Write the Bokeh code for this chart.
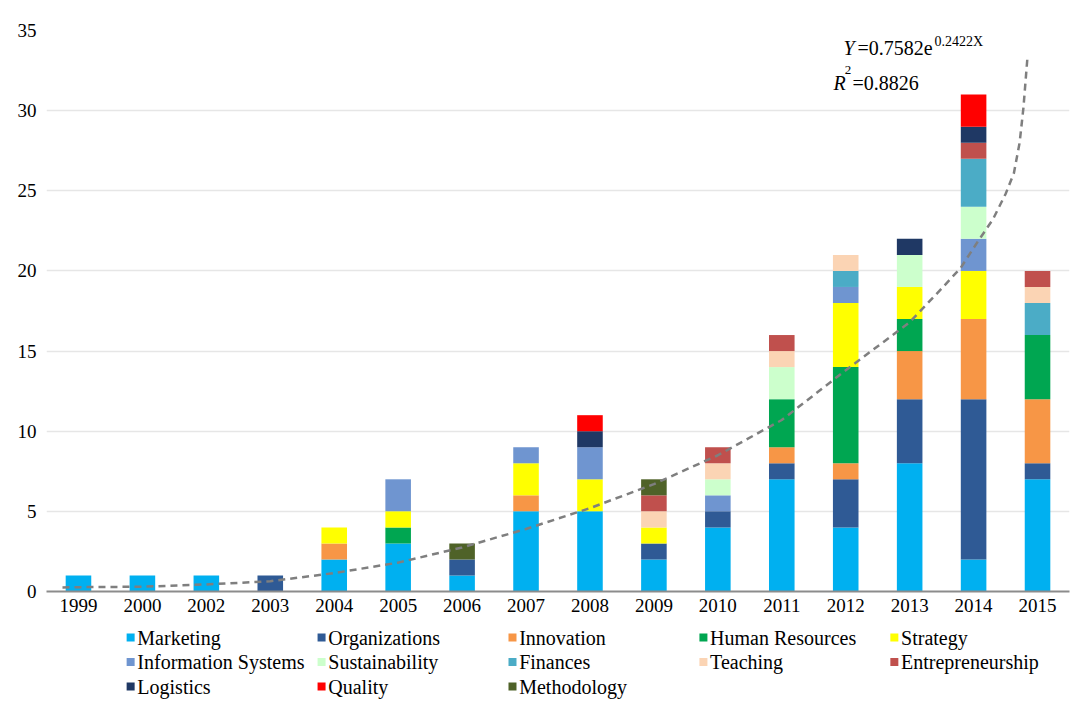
from bokeh.plotting import figure
from bokeh.layouts import column
from bokeh.models import (ColumnDataSource, Range1d, FixedTicker, Label)
from bokeh.core.properties import value
from bokeh.embed import file_html
from bokeh.resources import INLINE

years = ["1999", "2000", "2002", "2003", "2004", "2005", "2006", "2007",
         "2008", "2009", "2010", "2011", "2012", "2013", "2014", "2015"]

categories = ["Marketing", "Organizations", "Innovation", "Human Resources", "Strategy",
              "Information Systems", "Sustainability", "Finances", "Teaching", "Entrepreneurship",
              "Logistics", "Quality", "Methodology"]

marketing = [1, 1, 1, 0, 2, 3, 1, 5, 5, 2, 4, 7, 4, 8, 2, 7]
organizations = [0, 0, 0, 1, 0, 0, 1, 0, 0, 1, 1, 1, 3, 4, 10, 1]
innovation = [0, 0, 0, 0, 1, 0, 0, 1, 0, 0, 0, 1, 1, 3, 5, 4]
human_resources = [0, 0, 0, 0, 0, 1, 0, 0, 0, 0, 0, 3, 6, 2, 0, 4]
strategy = [0, 0, 0, 0, 1, 1, 0, 2, 2, 1, 0, 0, 4, 2, 3, 0]
information_systems = [0, 0, 0, 0, 0, 2, 0, 1, 2, 0, 1, 0, 1, 0, 2, 0]
sustainability = [0, 0, 0, 0, 0, 0, 0, 0, 0, 0, 1, 2, 0, 2, 2, 0]
finances = [0, 0, 0, 0, 0, 0, 0, 0, 0, 0, 0, 0, 1, 0, 3, 2]
teaching = [0, 0, 0, 0, 0, 0, 0, 0, 0, 1, 1, 1, 1, 0, 0, 1]
entrepreneurship = [0, 0, 0, 0, 0, 0, 0, 0, 0, 1, 1, 1, 0, 0, 1, 1]
logistics = [0, 0, 0, 0, 0, 0, 0, 0, 1, 0, 0, 0, 0, 1, 1, 0]
quality = [0, 0, 0, 0, 0, 0, 0, 0, 1, 0, 0, 0, 0, 0, 2, 0]
methodology = [0, 0, 0, 0, 0, 0, 1, 0, 0, 1, 0, 0, 0, 0, 0, 0]

series = [marketing, organizations, innovation, human_resources, strategy,
          information_systems, sustainability, finances, teaching, entrepreneurship,
          logistics, quality, methodology]

colors = ["#00B0F0", "#2F5A95", "#F79646", "#00A651", "#FFFF00",
          "#6F95D0", "#CCFFCC", "#4BACC6", "#FBD4B4", "#C0504D",
          "#1F3864", "#FF0000", "#4F6228"]

# exponential trendline (x in category index units)
trend_x = [-0.25, 0, 1, 2, 3, 4, 5, 6, 7, 8, 9, 10, 11, 12, 13, 13.5, 13.8, 14.06, 14.3,
           14.5, 14.63, 14.72, 14.78, 14.84]
trend_y = [0.25, 0.27, 0.3, 0.44, 0.64, 1.15, 1.8, 2.75, 3.9, 5.2, 6.7, 8.5, 10.7, 13.8, 16.8,
           18.9, 20.2, 21.8, 23.2, 24.8, 26.1, 28.0, 30.2, 33.2]

FONT = "Liberation Serif"

data = {"x": list(range(len(years)))}
for c, s in zip(categories, series):
    data[c] = s
src = ColumnDataSource(data)

p = figure(width=1070, height=621, output_backend="svg", toolbar_location=None,
           x_range=Range1d(-0.5, 15.5), y_range=Range1d(0, 35),
           min_border_left=46, min_border_right=1, min_border_top=30, min_border_bottom=30)
p.outline_line_color = None
p.background_fill_color = "white"

p.vbar_stack(categories, x="x", width=0.4, source=src, color=colors, line_color=None)

p.line(trend_x, trend_y, line_color="#7F7F7F", line_width=2.5, line_dash="7 5")

# axes
p.xaxis.ticker = FixedTicker(ticks=list(range(len(years))))
p.xaxis.major_label_overrides = {i: y for i, y in enumerate(years)}
p.xaxis.major_tick_line_color = None
p.xaxis.minor_tick_line_color = None
p.xaxis.major_tick_out = 0
p.xaxis.axis_line_color = "#8C8C8C"
p.xaxis.axis_line_width = 2
p.xaxis.major_label_text_font = FONT
p.xaxis.major_label_text_font_size = "19px"
p.xaxis.major_label_text_color = "black"
p.xaxis.major_label_standoff = 7

p.yaxis.ticker = FixedTicker(ticks=[0, 5, 10, 15, 20, 25, 30, 35])
p.yaxis.major_tick_line_color = None
p.yaxis.minor_tick_line_color = None
p.yaxis.major_tick_out = 0
p.yaxis.axis_line_color = None
p.yaxis.major_label_text_font = FONT
p.yaxis.major_label_text_font_size = "19px"
p.yaxis.major_label_text_color = "black"
p.yaxis.major_label_standoff = 10

p.xgrid.grid_line_color = None
p.ygrid.grid_line_color = "#E6E6E6"
p.ygrid.grid_line_width = 1.5

# equation text
lab_kw = dict(x_units="data", y_units="data", text_font=FONT, text_color="black",
              text_baseline="middle")
p.add_layout(Label(x=11.966, y=33.9, text="Y", text_font_style="italic",
                   text_font_size="20px", **lab_kw))
p.add_layout(Label(x=12.185, y=33.9, text="=0.7582e", text_font_size="20px", **lab_kw))
p.add_layout(Label(x=13.39, y=34.33, text="0.2422X", text_font_size="14px", **lab_kw))
p.add_layout(Label(x=11.81, y=31.75, text="R", text_font_style="italic",
                   text_font_size="20px", **lab_kw))
p.add_layout(Label(x=11.985, y=32.55, text="2", text_font_size="13px", **lab_kw))
p.add_layout(Label(x=12.105, y=31.75, text="=0.8826", text_font_size="20px", **lab_kw))

# legend drawn in its own strip below the chart (5 columns, filled row by row)
ncol = 5
col_idx = [i % ncol for i in range(len(categories))]
row_idx = [i // ncol for i in range(len(categories))]
leg_x = [88 + 199.7 * c for c in col_idx]
leg_y = [16 + 24.5 * r for r in row_idx]
leg_src = ColumnDataSource(dict(x=leg_x, y=leg_y, tx=[x + 7 for x in leg_x],
                                label=categories, color=colors))

lg = figure(width=1070, height=86, output_backend="svg", toolbar_location=None,
            x_range=Range1d(0, 1070), y_range=Range1d(86, 0),
            x_axis_type=None, y_axis_type=None,
            min_border_left=0, min_border_right=0, min_border_top=0, min_border_bottom=0)
lg.outline_line_color = None
lg.xgrid.visible = False
lg.ygrid.visible = False
lg.scatter(x="x", y="y", marker="square", size=8, fill_color="color", line_color=None,
           source=leg_src)
lg.text(x="tx", y="y", text="label", source=leg_src, text_font=value(FONT),
        text_font_size=value("20px"), text_baseline="middle", text_align="left",
        text_color="black")

layout = column(p, lg, spacing=0)

open("out.html", "w").write(file_html(layout, INLINE))
